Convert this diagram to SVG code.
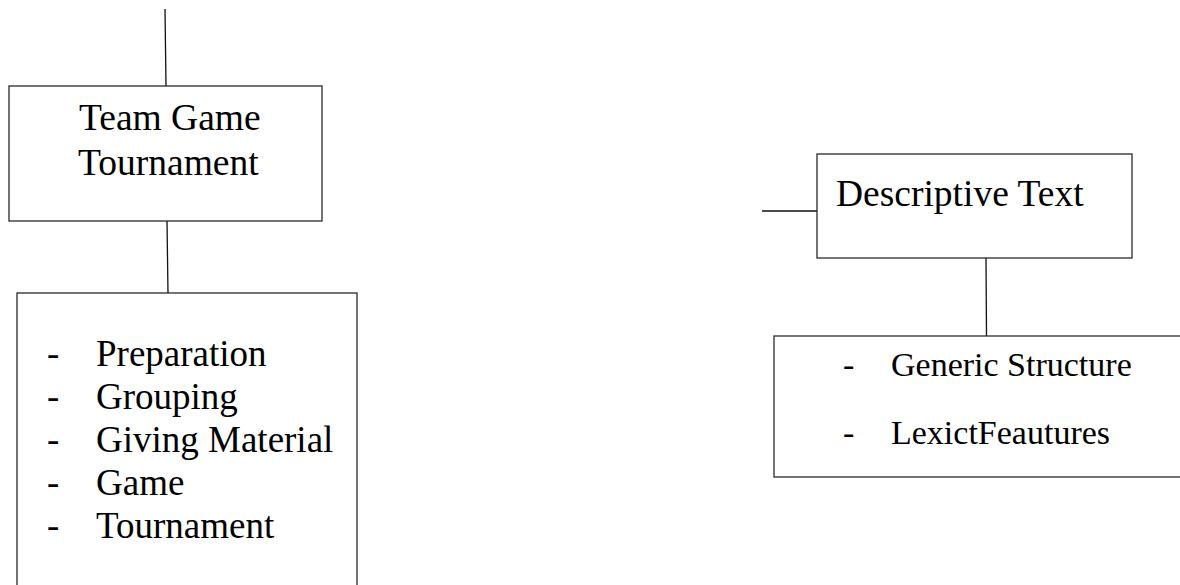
<svg xmlns="http://www.w3.org/2000/svg" width="1180" height="585" viewBox="0 0 1180 585">
  <style>
    .box { fill: #ffffff; stroke: #2a2a2a; stroke-width: 1.3; }
    .wire { fill: none; stroke: #111111; stroke-width: 1.3; }
    .lbl { font-family: "Liberation Serif", "Times New Roman", serif; fill: #000000; }
    .head { font-size: 37.5px; }
    .item { font-size: 37px; }
    .item-sm { font-size: 34px; }
  </style>
  <rect width="1180" height="585" fill="#ffffff"/>

  <!-- connectors -->
  <g id="connectors">
    <line class="wire" x1="165" y1="9" x2="166" y2="86"/>
    <line class="wire" x1="167" y1="221" x2="168" y2="293"/>
    <line class="wire" x1="762" y1="211" x2="817" y2="211"/>
    <line class="wire" x1="986" y1="258" x2="986.5" y2="336"/>
  </g>

  <!-- Team Game Tournament -->
  <g id="node-tgt">
    <rect class="box" x="9" y="86" width="313" height="135"/>
    <text class="lbl head" x="79" y="130">Team Game</text>
    <text class="lbl head" x="78" y="175">Tournament</text>
  </g>

  <!-- TGT steps -->
  <g id="node-tgt-steps">
    <rect class="box" x="17" y="293" width="340" height="310"/>
    <g class="lbl item">
      <text x="47" y="366">-</text><text x="96" y="366">Preparation</text>
      <text x="47" y="409">-</text><text x="96" y="409">Grouping</text>
      <text x="47" y="452">-</text><text x="96" y="452">Giving Material</text>
      <text x="47" y="495">-</text><text x="96" y="495">Game</text>
      <text x="47" y="538">-</text><text x="96" y="538">Tournament</text>
    </g>
  </g>

  <!-- Descriptive Text -->
  <g id="node-descriptive">
    <rect class="box" x="817" y="154" width="315" height="104"/>
    <text class="lbl head" x="836" y="206">Descriptive Text</text>
  </g>

  <!-- Descriptive Text parts -->
  <g id="node-descriptive-parts">
    <rect class="box" x="774" y="336" width="420" height="141"/>
    <g class="lbl item-sm">
      <text x="843" y="376">-</text><text x="891" y="376">Generic Structure</text>
      <text x="843" y="444">-</text><text x="891" y="444">LexictFeautures</text>
    </g>
  </g>
</svg>
